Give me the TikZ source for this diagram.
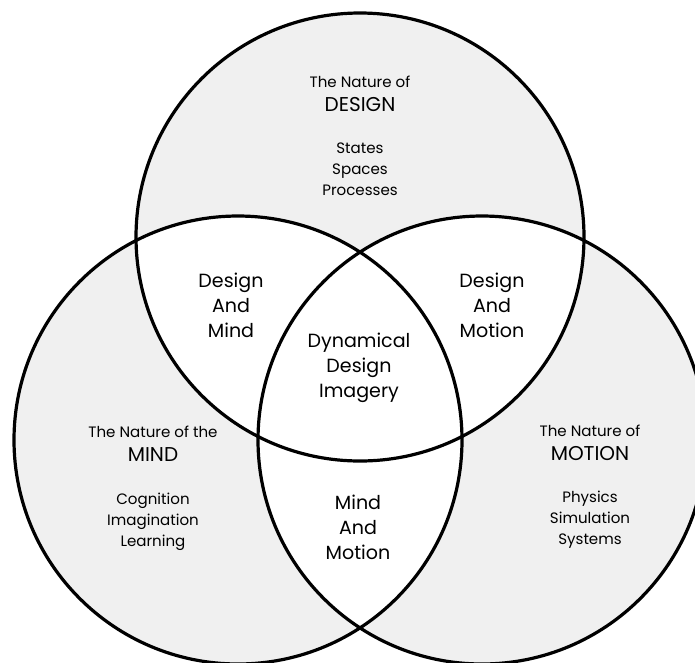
\documentclass[tikz,border=0pt]{standalone}
\usepackage{fontspec}
\setmainfont{Poppins}
\usetikzlibrary{positioning}

\definecolor{regiongray}{gray}{0.94}

\begin{document}
\begin{tikzpicture}[x=0.75pt, y=-0.75pt,
        every node/.style={inner sep=0pt},
        ring/.style={draw=black, line width=2.4pt},
        nature/.style={align=center, font=\fontsize{11.3}{15.75}\selectfont},
        topic/.style={font=\fontsize{15}{17}\selectfont},
        overlap/.style={align=center, font=\fontsize{14.3}{18.8}\selectfont}]
    \useasboundingbox (0,0) rectangle (695,662);
    \clip (0,0) rectangle (695,662);

    \coordinate (cdesign) at (360,237);
    \coordinate (cmind) at (238,440);
    \coordinate (cmotion) at (482,440);

    % grey discs, white where two of them meet
    \fill[regiongray] (cdesign) circle[radius=224];
    \fill[regiongray] (cmind) circle[radius=224];
    \fill[regiongray] (cmotion) circle[radius=224];
    \begin{scope}
        \clip (cdesign) circle[radius=224];
        \fill[white] (cmind) circle[radius=224];
        \fill[white] (cmotion) circle[radius=224];
    \end{scope}
    \begin{scope}
        \clip (cmind) circle[radius=224];
        \fill[white] (cmotion) circle[radius=224];
    \end{scope}

    \draw[ring] (cdesign) circle[radius=224];
    \draw[ring] (cmind) circle[radius=224];
    \draw[ring] (cmotion) circle[radius=224];

    % the three natures
    \node[nature] (designhead) at (360,82) {The Nature of};
    \node[topic, below=7pt of designhead] (designname) {DESIGN};
    \node[nature, below=23pt of designname] (designlist) {States\\Spaces\\Processes};

    \node[nature] (mindhead) at (153,432) {The Nature of the};
    \node[topic, below=7pt of mindhead] (mindname) {MIND};
    \node[nature, below=23pt of mindname] (mindlist) {Cognition\\Imagination\\Learning};

    \node[nature] (motionhead) at (590,431) {The Nature of};
    \node[topic, below=7pt of motionhead] (motionname) {MOTION};
    \node[nature, below=22pt of motionname] (motionlist) {Physics\\Simulation\\Systems};

    % overlaps
    \node[overlap] (designmind) at (231,305) {Design\\And\\Mind};
    \node[overlap] (designmotion) at (492,305) {Design\\And\\Motion};
    \node[overlap] (imagery) at (359,368) {Dynamical\\Design\\Imagery};
    \node[overlap] (mindmotion) at (358,527) {Mind\\And\\Motion};
\end{tikzpicture}
\end{document}
